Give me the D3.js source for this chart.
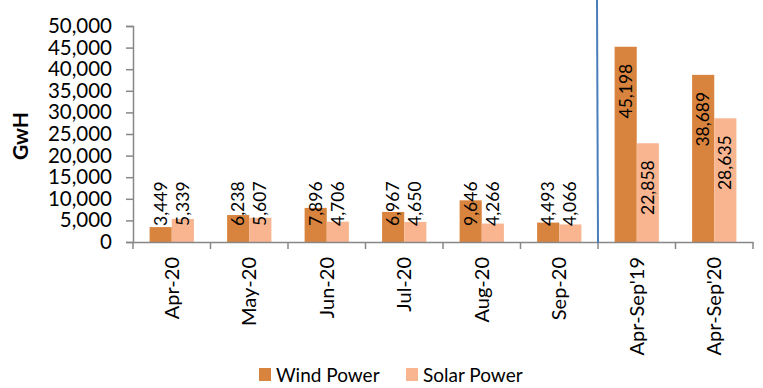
<!DOCTYPE html>
<html>
<head>
<meta charset="utf-8">
<script src="https://cdn.jsdelivr.net/npm/d3@7"></script>
<style>
  html, body { margin: 0; padding: 0; background: #fff; }
  svg { display: block; font-family: Lato, "Open Sans", sans-serif; }
</style>
</head>
<body>
<svg id="chart" width="763" height="388"></svg>
<script>
const categories = ["Apr-20", "May-20", "Jun-20", "Jul-20", "Aug-20", "Sep-20", "Apr-Sep'19", "Apr-Sep'20"];
const windPower = [3449, 6238, 7896, 6967, 9646, 4493, 45198, 38689];
const solarPower = [5339, 5607, 4706, 4650, 4266, 4066, 22858, 28635];
const seriesNames = ["Wind Power", "Solar Power"];
const seriesColors = ["#D9843E", "#F8B590"];
const yTickValues = [0, 5000, 10000, 15000, 20000, 25000, 30000, 35000, 40000, 45000, 50000];
const yLabel = "GwH";

const svg = d3.select("#chart");
const axisColor = "#878787";

const x = d3.scaleBand().domain(categories).range([133, 753]).paddingInner(0).paddingOuter(0);
const x1 = d3.scaleBand().domain([0, 1]).range([0, x.bandwidth()]).paddingInner(0).paddingOuter(0.75);
const y = d3.scaleLinear().domain([0, 50000]).range([242, 26]);

// bars
const seriesData = [windPower, solarPower];
seriesData.forEach((vals, si) => {
  svg.append("g").selectAll("rect")
    .data(vals)
    .join("rect")
    .attr("x", (d, i) => x(categories[i]) + x1(si))
    .attr("y", d => y(d))
    .attr("width", x1.bandwidth())
    .attr("height", d => y(0) - y(d))
    .attr("fill", seriesColors[si]);
});

// y axis
const yAxis = svg.append("g")
  .attr("transform", "translate(133,0)")
  .call(d3.axisLeft(y).tickValues(yTickValues).tickFormat(d3.format(",")).tickSize(7).tickPadding(14));
yAxis.select(".domain").attr("stroke", axisColor).attr("stroke-width", 1.5);
yAxis.selectAll(".tick line").attr("stroke", axisColor).attr("stroke-width", 1.5);
yAxis.selectAll(".tick text").attr("font-size", 20.5).attr("fill", "#000").attr("font-family", "Lato");

// x axis line + boundary ticks
const xAxis = svg.append("g")
  .attr("transform", "translate(0,242)")
  .call(d3.axisBottom(x).tickSize(0).tickFormat(""));
xAxis.select(".domain").attr("stroke", axisColor).attr("stroke-width", 1.5);
const boundaries = categories.map(c => x(c)).concat([x.range()[1]]);
svg.append("g").selectAll("line")
  .data(boundaries)
  .join("line")
  .attr("x1", d => d).attr("x2", d => d)
  .attr("y1", 242).attr("y2", 249)
  .attr("stroke", axisColor).attr("stroke-width", 1.5);

// x labels
svg.append("g").selectAll("text")
  .data(categories)
  .join("text")
  .attr("transform", d => `translate(${x(d) + x.bandwidth() / 2},257) rotate(-90)`)
  .attr("text-anchor", "end")
  .attr("dy", "0.35em")
  .attr("font-size", 20)
  .attr("fill", "#000")
  .text(d => d);

// y label
svg.append("text")
  .attr("transform", "translate(21,136) rotate(-90)")
  .attr("text-anchor", "middle")
  .attr("dy", "0.35em")
  .attr("font-size", 21)
  .attr("font-weight", "bold")
  .attr("fill", "#000")
  .text(yLabel);

// data labels
const fmt = d3.format(",");
seriesData.forEach((vals, si) => {
  const g = svg.append("g");
  vals.forEach((v, i) => {
    const cx = x(categories[i]) + x1(si) + x1.bandwidth() / 2;
    const t = g.append("text")
      .attr("font-size", 17.5)
      .attr("fill", "#000")
      .attr("text-anchor", "start")
      .attr("dy", "0.35em")
      .text(fmt(v));
    const len = t.node().getComputedTextLength();
    const bottom = Math.min(y(v) + 17 + len, 226);
    t.attr("transform", `translate(${cx},${bottom}) rotate(-90)`);
  });
});

// separator line
const sepX = x(categories[6]) - 1;
svg.append("line")
  .attr("x1", sepX).attr("x2", sepX + 1)
  .attr("y1", 0).attr("y2", 243)
  .attr("stroke", "#4A7EBB").attr("stroke-width", 2);

// legend
const legend = svg.append("g");
const legendX = [259, 406];
seriesNames.forEach((name, i) => {
  legend.append("rect")
    .attr("x", legendX[i]).attr("y", 368)
    .attr("width", 12).attr("height", 13)
    .attr("fill", seriesColors[i]);
  legend.append("text")
    .attr("x", legendX[i] + 17).attr("y", 375)
    .attr("dy", "0.35em")
    .attr("font-size", 19)
    .attr("fill", "#000")
    .text(name);
});
</script>
</body>
</html>
